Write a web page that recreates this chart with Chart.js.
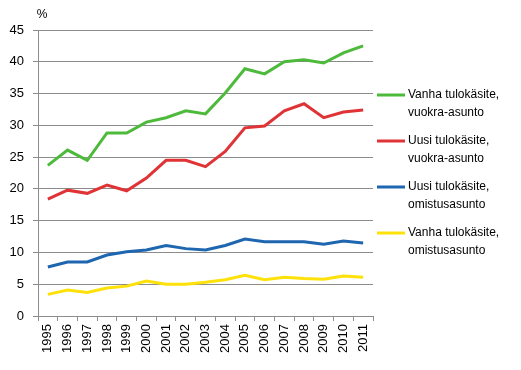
<!DOCTYPE html>
<html>
<head>
<meta charset="utf-8">
<script src="https://cdn.jsdelivr.net/npm/chart.js@4/dist/chart.umd.min.js"></script>
<style>
  html, body { margin: 0; padding: 0; background: #fff; }
  #wrap { width: 521px; height: 370px; }
</style>
</head>
<body>
<div id="wrap"><canvas id="myChart" width="521" height="370"></canvas></div>
<script>
const years = ['1995','1996','1997','1998','1999','2000','2001','2002','2003',
  '2004','2005','2006','2007','2008','2009','2010','2011'];

const vanhaVuokra = [23.7, 26.1, 24.5, 28.8, 28.8, 30.5, 31.2, 32.3, 31.8,
  35.1, 38.9, 38.1, 40.0, 40.3, 39.8, 41.4, 42.5];
const uusiVuokra = [18.4, 19.8, 19.3, 20.6, 19.7, 21.7, 24.5, 24.5, 23.5,
  25.9, 29.6, 29.9, 32.3, 33.4, 31.2, 32.1, 32.4];
const uusiOmistus = [7.7, 8.5, 8.5, 9.6, 10.1, 10.4, 11.1, 10.6, 10.4,
  11.1, 12.1, 11.7, 11.7, 11.7, 11.3, 11.8, 11.5];
const vanhaOmistus = [3.4, 4.1, 3.7, 4.4, 4.7, 5.5, 5.0, 5.0, 5.3,
  5.7, 6.4, 5.7, 6.1, 5.9, 5.8, 6.3, 6.1];

const seriesNames = [
  ['Vanha tulokäsite,', 'vuokra-asunto'],
  ['Uusi tulokäsite,', 'vuokra-asunto'],
  ['Uusi tulokäsite,', 'omistusasunto'],
  ['Vanha tulokäsite,', 'omistusasunto']
];
const colors = ['#4dba3c', '#e03336', '#1f66b0', '#ffe10a'];

const fontFamily = '"Liberation Sans", Arial, sans-serif';
const gridColor = '#8c8c8c';

// legend and % sign drawn by hand, like the original
const extras = {
  id: 'extras',
  afterDraw(chart) {
    const c = chart.ctx;
    c.save();
    c.font = '12px ' + fontFamily;
    c.fillStyle = '#000';
    c.textBaseline = 'middle';
    c.textAlign = 'center';
    c.fillText('%', 42, 15);
    c.textAlign = 'left';
    chart.data.datasets.forEach((ds, i) => {
      const y = 95 + i * 46;
      c.strokeStyle = ds.borderColor;
      c.lineWidth = 3;
      c.beginPath();
      c.moveTo(377, y);
      c.lineTo(405, y);
      c.stroke();
      c.fillText(seriesNames[i][0], 408, y);
      c.fillText(seriesNames[i][1], 408, y + 18);
    });
    c.restore();
  }
};

const mk = (data, i) => ({
  label: seriesNames[i].join(' '),
  data: data,
  borderColor: colors[i],
  backgroundColor: colors[i],
  borderWidth: 3,
  pointRadius: 0,
  tension: 0,
  fill: false
});

new Chart(document.getElementById('myChart'), {
  type: 'line',
  data: {
    labels: years,
    datasets: [mk(vanhaVuokra, 0), mk(uusiVuokra, 1), mk(uusiOmistus, 2), mk(vanhaOmistus, 3)]
  },
  options: {
    responsive: false,
    animation: false,
    events: [],
    layout: { padding: { top: 30, right: 148, left: 0, bottom: 0 } },
    plugins: { legend: { display: false }, tooltip: { enabled: false } },
    scales: {
      x: {
        offset: true,
        grid: { offset: true, drawOnChartArea: false, drawTicks: true, tickLength: 5, color: gridColor },
        border: { color: gridColor },
        ticks: { minRotation: 90, maxRotation: 90, autoSkip: false, padding: 3, color: '#000',
          font: { family: fontFamily, size: 13 } },
        afterFit(scale) { scale.height = 54; }
      },
      y: {
        min: 0,
        max: 45,
        ticks: { stepSize: 5, padding: 9, color: '#000', font: { family: fontFamily, size: 13 } },
        grid: { color: gridColor, tickLength: 5 },
        border: { color: gridColor },
        afterFit(scale) { scale.width = 38; }
      }
    }
  },
  plugins: [extras]
});
</script>
</body>
</html>
